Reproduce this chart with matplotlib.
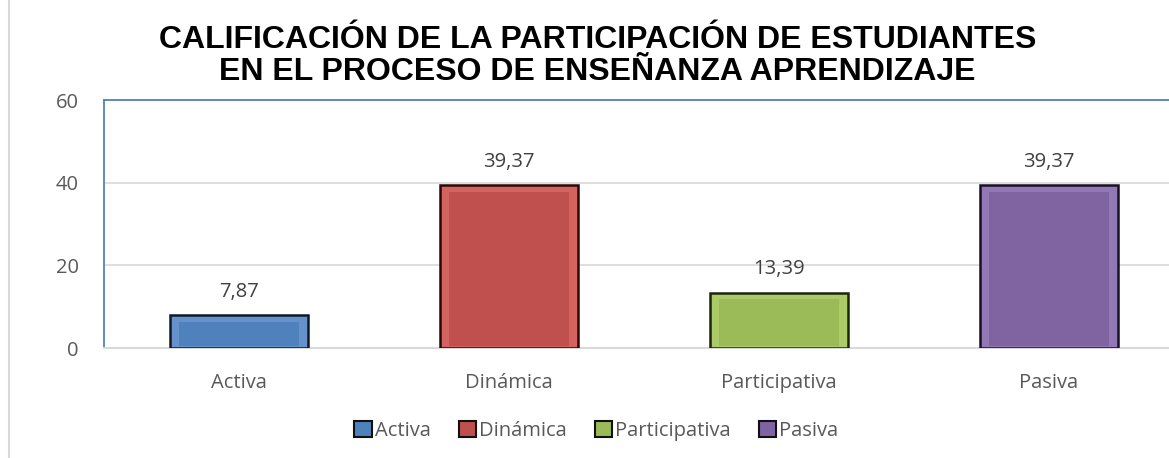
import matplotlib
matplotlib.use("Agg")
import matplotlib.pyplot as plt
from matplotlib.patches import Patch
from matplotlib.lines import Line2D

categorias = ["Activa", "Dinámica", "Participativa", "Pasiva"]
valores = [7.87, 39.37, 13.39, 39.37]
etiquetas = ["7,87", "39,37", "13,39", "39,37"]
colores = ["#4f81bd", "#c0504d", "#9bbb59", "#8064a2"]
claros = ["#6592cb", "#d4625e", "#aacb68", "#9279b6"]
bordes = ["#0d1a2b", "#2b0707", "#1c2608", "#1a1026"]
titulo = "CALIFICACIÓN DE LA PARTICIPACIÓN DE ESTUDIANTES\nEN EL PROCESO DE ENSEÑANZA APRENDIZAJE"

plt.rcParams['font.family'] = ['Open Sans', 'DejaVu Sans']

fig = plt.figure(figsize=(11.69, 4.58), dpi=100)
ax = fig.add_axes([104/1169, 1 - 348/458, 1080/1169, 248/458])

x = range(len(categorias))
ancho = 0.51
# marco exterior (bisel) y cara interior
ax.bar(x, valores, width=ancho, color=claros, edgecolor=bordes, linewidth=1.8, zorder=3)
ax.bar(x, [v - 2.2 for v in valores], bottom=0.6, width=ancho - 0.065,
       color=colores, linewidth=0, zorder=4)

for i, v in enumerate(valores):
    ax.text(i, v + 3.3, etiquetas[i], ha="center", va="bottom",
            fontsize=14.5, color="#404040")

ax.set_xlim(-0.5, 3.5)
ax.set_ylim(0, 60)
ax.set_yticks([0, 20, 40, 60])
ax.set_xticks(list(x))
ax.set_xticklabels(categorias)
ax.tick_params(axis="both", length=0, labelsize=14.5, labelcolor="#595959")
ax.tick_params(axis="y", pad=18)
ax.tick_params(axis="x", pad=18)
ax.grid(axis="y", color="#d9d9d9", linewidth=1.2, zorder=0)
ax.set_axisbelow(True)
for s in ["left", "top", "right"]:
    ax.spines[s].set_color("#4f81bd")
    ax.spines[s].set_linewidth(1.3)
ax.spines["bottom"].set_color("#d9d9d9")
ax.spines["bottom"].set_linewidth(1.5)

fig.text(0.511, 0.945, titulo, ha="center", va="top", fontsize=23,
         fontweight="bold", family="Liberation Sans", linespacing=1.1)

# borde del area del grafico
fig.add_artist(Line2D([9/1169, 9/1169], [0, 1], transform=fig.transFigure,
                      color="#d9d9d9", linewidth=1.5))

handles = [Patch(facecolor=c, edgecolor="#111111", linewidth=1.5) for c in colores]
fig.legend(handles, categorias, loc="center", bbox_to_anchor=(0.51, 0.058),
           ncol=4, frameon=False, fontsize=14.5, labelcolor="#595959",
           handlelength=0.85, handleheight=0.85, handletextpad=0.15,
           columnspacing=1.4)

fig.savefig("out.png", dpi=100)
